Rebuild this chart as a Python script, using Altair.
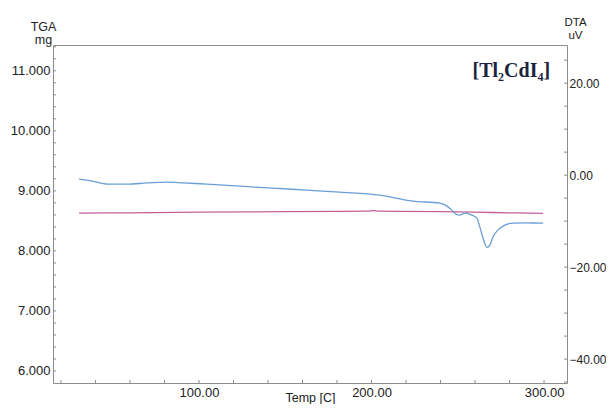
import altair as alt
import pandas as pd

# DTA curve (blue), right axis, uV
dta_temp = [30.5, 38.0, 47.1, 58.2, 70.0, 81.3, 90.6, 104.5, 123.7, 142.8, 162.5,
            181.6, 204.8, 224.0, 239.6, 243.7, 246.6, 248.9, 251.2, 254.1, 258.2,
            261.1, 262.8, 264.5, 266.9, 268.6, 270.3, 273.2, 277.3, 281.9, 290.0, 299.5]
dta_uv = [-0.87, -1.3, -1.96, -1.96, -1.7, -1.52, -1.67, -1.96, -2.39, -2.83, -3.26,
          -3.70, -4.35, -5.65, -6.09, -6.74, -7.61, -8.48, -8.70, -8.26, -8.70,
          -9.35, -11.3, -13.5, -15.7, -15.2, -13.5, -11.96, -10.87, -10.43, -10.40, -10.43]

# TGA curve (pink), left axis, mg
tga_temp = [30.5, 60.0, 100.0, 150.0, 198.0, 201.0, 204.0, 240.0, 270.0, 299.5]
tga_mg = [8.630, 8.635, 8.645, 8.655, 8.662, 8.672, 8.662, 8.655, 8.640, 8.625]

x_labels = [100, 200, 300]
tga_labels = [6, 7, 8, 9, 10, 11]
dta_labels = [-40, -20, 0, 20]
x_minor = [20, 40, 60, 80, 100, 120, 140, 160, 180, 200, 220, 240, 260, 280, 300]
tga_minor = [round(5.8 + 0.2 * i, 1) for i in range(1, 29)]
dta_minor = [-45, -40, -35, -30, -25, -20, -15, -10, -5, 0, 5, 10, 15, 20, 25]

label_text = ["[Tl\u2082CdI\u2084]"]
label_temp = [303.5]
label_mg = [11.0]

W, H = 514, 338
PINK = "#c2609a"
BLUE = "#6a9ed6"
AX = "#8c8c8c"
FONT = "Liberation Sans"

x_scale = alt.Scale(domain=[15.4, 313.3], nice=False, zero=False)
tga_scale = alt.Scale(domain=[5.8, 11.43], nice=False, zero=False)
dta_scale = alt.Scale(domain=[-45.2, 28.3], nice=False, zero=False)

x_enc = alt.X("T:Q", scale=x_scale,
              axis=alt.Axis(values=x_labels, format=".2f", title="Temp [C]",
                            ticks=False, tickSize=0, domain=False, grid=False, labelPadding=3,
                            titleY=18, titleBaseline="alphabetic",
                            titleFontWeight="normal", titleFontSize=12.5))

tga_df = pd.DataFrame({"T": tga_temp, "mg": tga_mg})
dta_df = pd.DataFrame({"T": dta_temp, "uV": dta_uv})

tga_line = alt.Chart(tga_df).mark_line(color=PINK, strokeWidth=1.3, interpolate="monotone").encode(
    x=x_enc,
    y=alt.Y("mg:Q", scale=tga_scale,
            axis=alt.Axis(orient="left", values=tga_labels, format=".3f",
                          title=["TGA", "mg"], titleAngle=0, titleX=-10, titleY=-15,
                          titleAlign="center", titleBaseline="alphabetic",
                          titleFontWeight="normal", titleFontSize=12.5, titleLineHeight=13,
                          ticks=False, tickSize=0, domain=False, grid=False, labelPadding=3)),
)

dta_line = alt.Chart(dta_df).mark_line(color=BLUE, strokeWidth=1.3, interpolate="monotone").encode(
    x=x_enc,
    y=alt.Y("uV:Q", scale=dta_scale,
            axis=alt.Axis(orient="right", values=dta_labels, format=".2f",
                          title=["DTA", "uV"], titleAngle=0, titleX=8, titleY=-20,
                          titleAlign="center", titleBaseline="alphabetic",
                          titleFontWeight="normal", titleFontSize=11.5, titleLineHeight=13,
                          labelFontSize=12,
                          ticks=False, tickSize=0, domain=False, grid=False, labelPadding=2)),
)

# tick marks (inward)
tga_tick_df = pd.DataFrame({"v": tga_minor})
dta_tick_df = pd.DataFrame({"v": dta_minor})
x_tick_df = pd.DataFrame({"T": x_minor})

left_ticks = alt.Chart(tga_tick_df).mark_rule(color=AX, strokeWidth=1).encode(
    y=alt.Y("v:Q", scale=tga_scale, axis=None),
    x=alt.value(0),
    x2=alt.value(3),
)
right_ticks = alt.Chart(dta_tick_df).mark_rule(color=AX, strokeWidth=1).encode(
    y=alt.Y("v:Q", scale=dta_scale, axis=None),
    x=alt.value(W),
    x2=alt.value(W - 3),
)
bottom_ticks = alt.Chart(x_tick_df).mark_rule(color=AX, strokeWidth=1).encode(
    x=x_enc,
    y=alt.value(H),
    y2=alt.value(H - 3),
)

label_df = pd.DataFrame({"T": label_temp, "mg": label_mg, "txt": label_text})
label = alt.Chart(label_df).mark_text(
    font="Liberation Serif", fontWeight="bold", fontSize=20, color="#1c2340",
    align="right", baseline="middle",
).encode(
    x=x_enc,
    y=alt.Y("mg:Q", scale=tga_scale, axis=None),
    text="txt:N",
)

chart = alt.layer(tga_line, dta_line, left_ticks, right_ticks, bottom_ticks, label).resolve_scale(
    y="independent"
).properties(
    width=W, height=H,
    autosize=alt.AutoSizeParams(type="none"),
    padding={"left": 45, "top": 37, "right": 39, "bottom": 21},
    background="white",
).configure_view(
    stroke=AX, strokeWidth=1,
).configure_axis(
    labelFont=FONT, labelFontSize=13, labelColor="#222222",
    titleFont=FONT, titleColor="#222222",
)

chart.save("out.html", embed_options={"renderer": "svg", "actions": False})
